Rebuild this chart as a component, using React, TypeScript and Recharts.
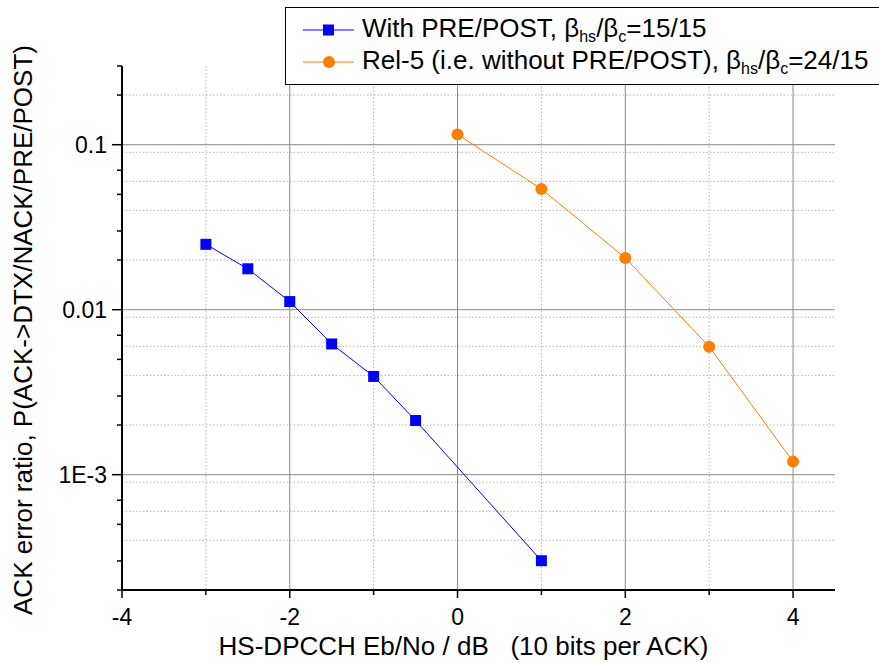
import { CartesianGrid, Legend, Line, LineChart, XAxis, YAxis } from "recharts";

const withPrePostX = [-3, -2.5, -2, -1.5, -1, -0.5, 1];
const withPrePostY = [0.0249, 0.0177, 0.0112, 0.0062, 0.00394, 0.00213, 0.000301];
const rel5X = [0, 1, 2, 3, 4];
const rel5Y = [0.1155, 0.0539, 0.0206, 0.00597, 0.0012];

const xTicks = [-4, -3, -2, -1, 0, 1, 2, 3, 4];
const xMajor = [-4, -2, 0, 2, 4];
const xMinor = [-3, -1, 1, 3];
const yMajor = [0.001, 0.01, 0.1];
const yMajorLabels = ["1E-3", "0.01", "0.1"];
const yDomain: [number, number] = [2e-4, 0.3];

// minor log ticks 2..9 of every decade inside the domain
const yMinor: number[] = [];
for (const dec of [1e-4, 1e-3, 1e-2, 1e-1]) {
  for (let m = 2; m <= 9; m++) {
    const v = +(m * dec).toPrecision(3);
    if (v >= yDomain[0] && v <= yDomain[1]) yMinor.push(v);
  }
}
const yTicks = [...yMajor, ...yMinor].sort((a, b) => a - b);
const yMinorGrid = yMinor.filter((v) => v < 0.3);

const blueData = withPrePostX.map((x, i) => ({ x, y: withPrePostY[i] }));
const orangeData = rel5X.map((x, i) => ({ x, y: rel5Y[i] }));

const FONT = "'Liberation Sans', Arial, sans-serif";

function majorIndex(v: number) {
  return yMajor.findIndex((m) => Math.abs(m - v) / m < 1e-6);
}

function XTick(props: any) {
  const { x, y, payload } = props;
  const major = xMajor.includes(payload.value);
  return (
    <g>
      <line x1={x} x2={x} y1={y} y2={y + (major ? 8 : 5)} stroke="#000" strokeWidth={1.5} />
      {major && (
        <text x={x} y={y + 35} textAnchor="middle" fontSize={23} fontFamily={FONT} fill="#000">
          {payload.value}
        </text>
      )}
    </g>
  );
}

function YTick(props: any) {
  const { x, y, payload } = props;
  const idx = majorIndex(payload.value);
  const major = idx >= 0;
  return (
    <g>
      <line x1={x - (major ? 10 : 5)} x2={x} y1={y} y2={y} stroke="#000" strokeWidth={1.5} />
      {major && (
        <text x={x - 15} y={y} dy="0.36em" textAnchor="end" fontSize={23} fontFamily={FONT} fill="#000">
          {yMajorLabels[idx]}
        </text>
      )}
    </g>
  );
}

function SquareDot(props: any) {
  const { cx, cy } = props;
  if (cx == null || cy == null) return null;
  return <rect x={cx - 5.5} y={cy - 5.5} width={11} height={11} fill="#0000ff" />;
}

function YTitle(props: any) {
  const vb = props.viewBox || {};
  const cy = (vb.y ?? 66) + (vb.height ?? 524) / 2 + 2;
  const cx = 23;
  return (
    <text
      x={cx}
      y={cy}
      transform={`rotate(-90 ${cx} ${cy})`}
      textAnchor="middle"
      dy="0.36em"
      fontSize={26}
      fontFamily={FONT}
      fill="#000"
    >
      ACK error ratio, P(ACK-&gt;DTX/NACK/PRE/POST)
    </text>
  );
}

function XTitle(props: any) {
  const vb = props.viewBox || {};
  const cx = (vb.x ?? 122) + (vb.width ?? 713) / 2 - 15;
  return (
    <text x={cx} y={655} textAnchor="middle" fontSize={26} fontFamily={FONT} fill="#000" style={{ whiteSpace: "pre" }}>
      HS-DPCCH Eb/No / dB   (10 bits per ACK)
    </text>
  );
}

function LegendBox() {
  const sub = { fontSize: 16, verticalAlign: "-5px", lineHeight: 1 } as const;
  const row = { display: "flex", alignItems: "center", height: 32 } as const;
  return (
    <div
      style={{
        position: "absolute",
        left: 285,
        top: 7,
        width: 610,
        height: 78,
        border: "1.5px solid #000",
        background: "#fff",
        boxSizing: "border-box",
        fontFamily: FONT,
        fontSize: 26,
        color: "#000",
        paddingTop: 6,
        whiteSpace: "nowrap",
        lineHeight: 1,
      }}
    >
      <div style={row}>
        <svg width={76} height={20}>
          <line x1={17} x2={68} y1={10} y2={10} stroke="#0000ff" strokeWidth={1} />
          <rect x={37} y={4.5} width={11} height={11} fill="#0000ff" />
        </svg>
        <span>
          With PRE/POST, β<span style={sub}>hs</span>/β<span style={sub}>c</span>=15/15
        </span>
      </div>
      <div style={row}>
        <svg width={76} height={20}>
          <line x1={17} x2={68} y1={10} y2={10} stroke="#ff8000" strokeWidth={1} />
          <circle cx={43} cy={10} r={6} fill="#ff8000" />
        </svg>
        <span>
          Rel-5 (i.e. without PRE/POST), β<span style={sub}>hs</span>/β<span style={sub}>c</span>=24/15
        </span>
      </div>
    </div>
  );
}

export default function App() {
  return (
    <div style={{ position: "absolute", left: 0, top: 0, width: 879, height: 663, background: "#fff", overflow: "hidden" }}>
      <LineChart width={879} height={663} margin={{ top: 66, right: 44, bottom: 0, left: 0 }}>
        <CartesianGrid
          stroke="#b4b4b4"
          strokeDasharray="1.5 2"
          horizontalValues={yMinorGrid}
          verticalValues={xMinor}
        />
        <CartesianGrid stroke="#8a8a8a" horizontalValues={yMajor} verticalValues={[-2, 0, 2, 4]} />
        <XAxis
          type="number"
          dataKey="x"
          domain={[-4, 4.5]}
          ticks={xTicks}
          allowDataOverflow
          height={73}
          tickSize={0}
          tickMargin={0}
          tickLine={false}
          axisLine={{ stroke: "#000", strokeWidth: 2 }}
          tick={<XTick />}
          label={(p: any) => <XTitle {...p} />}
        />
        <YAxis
          type="number"
          dataKey="y"
          scale="log"
          domain={yDomain}
          ticks={yTicks}
          allowDataOverflow
          width={122}
          tickSize={0}
          tickMargin={0}
          tickLine={false}
          axisLine={{ stroke: "#000", strokeWidth: 2 }}
          tick={<YTick />}
          label={(p: any) => <YTitle {...p} />}
        />
        <Line
          data={blueData}
          dataKey="y"
          stroke="#0000ff"
          strokeWidth={1}
          dot={<SquareDot />}
          activeDot={false}
          isAnimationActive={false}
        />
        <Line
          data={orangeData}
          dataKey="y"
          stroke="#ff8000"
          strokeWidth={1}
          dot={{ r: 6, fill: "#ff8000", stroke: "none" }}
          activeDot={false}
          isAnimationActive={false}
        />
        <Legend content={() => <LegendBox />} wrapperStyle={{ position: "absolute", left: 0, top: 0, width: 0, height: 0 }} />
      </LineChart>
    </div>
  );
}
